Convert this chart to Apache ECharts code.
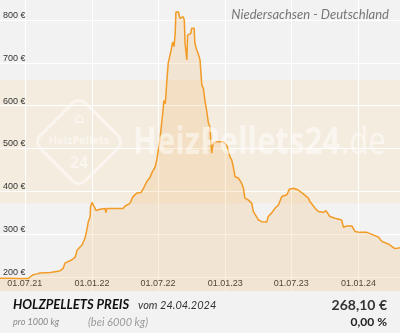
<!DOCTYPE html>
<html>
<head>
<meta charset="utf-8">
<script src="https://cdn.jsdelivr.net/npm/echarts@6/dist/echarts.min.js"></script>
<style>
  html, body { margin: 0; padding: 0; background: #f2f2f2; }
  #chart { width: 400px; height: 333px; }
</style>
</head>
<body>
<div id="chart"></div>
<script>
// Pellet price per 1000 kg (bei 6000 kg), Niedersachsen
const dates = [
  '2021-04-24','2021-05-21','2021-06-18','2021-07-10','2021-07-15','2021-07-23','2021-08-03','2021-08-12',
  '2021-09-08','2021-10-05','2021-10-14','2021-10-19','2021-10-22','2021-11-07','2021-11-16','2021-11-21',
  '2021-12-05','2021-12-13','2021-12-18','2021-12-22','2021-12-27','2021-12-28','2022-01-01','2022-01-07',
  '2022-01-12','2022-01-23','2022-02-06','2022-02-08','2022-02-11','2022-03-05','2022-03-27','2022-04-01',
  '2022-04-15','2022-04-23','2022-05-04','2022-05-15','2022-05-21','2022-06-01','2022-06-09','2022-06-14',
  '2022-06-23','2022-06-28','2022-07-06','2022-07-14','2022-07-17','2022-07-21','2022-07-26','2022-07-29',
  '2022-08-05','2022-08-10','2022-08-14','2022-08-17','2022-08-19','2022-08-26','2022-08-30','2022-09-04',
  '2022-09-08','2022-09-11','2022-09-13','2022-09-18','2022-09-20','2022-09-29','2022-10-01','2022-10-08',
  '2022-10-10','2022-10-15','2022-10-19','2022-10-24','2022-10-29','2022-11-02','2022-11-07','2022-11-11',
  '2022-11-16','2022-11-20','2022-11-24','2022-11-25','2022-11-29','2022-12-09','2022-12-27','2023-01-05',
  '2023-01-14','2023-01-19','2023-01-23','2023-01-28','2023-02-06','2023-02-15','2023-02-20','2023-02-24',
  '2023-03-05','2023-03-15','2023-03-19','2023-03-24','2023-04-02','2023-04-11','2023-04-25','2023-04-29',
  '2023-05-08','2023-05-18','2023-05-27','2023-06-05','2023-06-19','2023-06-26','2023-07-07','2023-07-20',
  '2023-08-03','2023-08-17','2023-08-21','2023-09-04','2023-09-13','2023-09-27','2023-10-04','2023-10-15',
  '2023-10-29','2023-11-16','2023-11-21','2023-11-30','2023-12-14','2023-12-23','2024-01-05','2024-01-24',
  '2024-02-02','2024-02-25','2024-03-05','2024-03-23','2024-04-10','2024-04-24'
];
const prices = [
  197,197,196,196,198,205,207,209,
  210,214,220,232,236,240,246,262,
  275,291,310,329,341,364,374,364,
  355,358,360,350,360,360,360,365,
  372,387,396,397,405,424,432,443,
  457,475,520,583,612,605,668,700,
  726,749,738,769,819,819,804,800,
  808,800,746,707,765,769,781,781,
  746,730,722,707,648,641,609,590,
  560,551,547,489,512,516,516,508,
  481,473,458,434,431,419,407,384,
  380,372,353,349,333,329,328,341,
  349,361,368,388,392,405,407,403,
  394,384,376,361,353,351,355,341,
  337,333,316,319,319,306,304,304,
  301,293,283,277,266,268.1
];

// Axis ticks
const dateTicks = ['2021-07-01','2022-01-01','2022-07-01','2023-01-01','2023-07-01','2024-01-01'];
const priceTicks = [200, 300, 400, 500, 600, 700, 800];
// Highlighted price band
const bandRange = [372, 660];

const xRange = ['2021-04-24', '2024-04-24'];
const yRange = [167, 847];

const ts = s => new Date(s + 'T00:00:00Z').getTime();
const pad = n => (n < 10 ? '0' : '') + n;
const fmtDate = v => {
  const d = new Date(v);
  return pad(d.getUTCDate()) + '.' + pad(d.getUTCMonth() + 1) + '.' + String(d.getUTCFullYear()).slice(2);
};

const chart = echarts.init(document.getElementById('chart'), null, { renderer: 'canvas' });

const labelFont = { fontFamily: 'Liberation Sans, Arial, sans-serif', fontSize: 9, color: '#333' };
const wm = 'rgba(255,255,255,0.5)';

chart.setOption({
  animation: false,
  backgroundColor: '#f2f2f2',
  grid: { left: 0, right: 0, top: 0, height: 291, containLabel: false },
  xAxis: {
    // timestamps on a linear axis so ticks can sit on the 1st of Jan / Jul
    type: 'value',
    min: ts(xRange[0]),
    max: ts(xRange[1]),
    z: 2,
    axisLine: { show: false },
    axisTick: { show: false, customValues: dateTicks.map(ts) },
    splitLine: { show: true, lineStyle: { color: '#ffffff', width: 1 } },
    axisLabel: Object.assign({
      customValues: dateTicks.map(ts),
      inside: true,
      margin: 3,
      formatter: v => fmtDate(v),
      hideOverlap: false
    }, labelFont)
  },
  yAxis: {
    type: 'value',
    min: yRange[0],
    max: yRange[1],
    z: 2,
    axisLine: { show: false },
    axisTick: { show: false, customValues: priceTicks },
    splitLine: { show: true, lineStyle: { color: '#ffffff', width: 1 } },
    axisLabel: Object.assign({
      customValues: priceTicks,
      inside: true,
      margin: 3,
      verticalAlign: 'bottom',
      formatter: v => v + ' €'
    }, labelFont)
  },
  series: [
    {
      type: 'line',
      z: 1,
      data: [],
      silent: true,
      markArea: {
        silent: true,
        z: 1,
        itemStyle: { color: '#f4ecdf' },
        data: [[{ yAxis: bandRange[0] }, { yAxis: bandRange[1] }]]
      }
    },
    {
      type: 'line',
      z: 3,
      showSymbol: false,
      data: dates.map((d, i) => [ts(d), prices[i]]),
      lineStyle: { color: '#f29b26', width: 1.5 },
      areaStyle: { color: 'rgba(236,160,60,0.24)', origin: 'start' }
    }
  ],
  graphic: [
    // watermark logo
    {
      type: 'rect', z: 10, silent: true, x: 79, y: 142, rotation: Math.PI / 4,
      shape: { x: -32, y: -32, width: 64, height: 64, r: 9 },
      style: { fill: 'transparent', stroke: wm, lineWidth: 3 }
    },
    {
      type: 'text', z: 10, silent: true, x: 79, y: 141,
      style: { text: 'HeizPellets', fill: wm, font: 'bold 11px "Open Sans", sans-serif', textAlign: 'center', textVerticalAlign: 'middle' }
    },
    {
      type: 'text', z: 10, silent: true, x: 79, y: 163,
      style: { text: '24', fill: wm, font: 'bold 16px "Open Sans", sans-serif', textAlign: 'center', textVerticalAlign: 'middle' }
    },
    {
      type: 'text', z: 10, silent: true, x: 79, y: 119,
      style: { text: '⌂', fill: wm, font: 'bold 15px "DejaVu Sans", sans-serif', textAlign: 'center', textVerticalAlign: 'middle' }
    },
    {
      type: 'text', z: 10, silent: true, x: 133, y: 143, scaleX: 0.82,
      style: { text: 'HeizPellets24', fill: wm, font: 'bold 38px "Open Sans", sans-serif', textAlign: 'left', textVerticalAlign: 'middle' }
    },
    {
      type: 'text', z: 10, silent: true, x: 341, y: 143, scaleX: 0.82,
      style: { text: '.de', fill: wm, font: '38px "Open Sans", sans-serif', textAlign: 'left', textVerticalAlign: 'middle' }
    },
    // region caption
    {
      type: 'text', x: 389, y: 15, z: 20,
      style: { text: 'Niedersachsen - Deutschland', fill: '#777', font: 'italic 13px Lato, sans-serif', textAlign: 'right', textVerticalAlign: 'middle' }
    },
    // footer
    {
      type: 'rect', z: 20, shape: { x: 0, y: 291, width: 400, height: 42 },
      style: { fill: '#f2f2f2' }
    },
    {
      type: 'text', x: 13, y: 305, z: 21,
      style: { text: 'HOLZPELLETS PREIS', fill: '#111', font: 'italic bold 13px Lato, sans-serif', textAlign: 'left', textVerticalAlign: 'middle' }
    },
    {
      type: 'text', x: 138, y: 305, z: 21,
      style: { text: 'vom 24.04.2024', fill: '#333', font: 'italic 11px Lato, sans-serif', textAlign: 'left', textVerticalAlign: 'middle' }
    },
    {
      type: 'text', x: 13, y: 322, z: 21,
      style: { text: 'pro 1000 kg', fill: '#888', font: 'italic 9px Lato, sans-serif', textAlign: 'left', textVerticalAlign: 'middle' }
    },
    {
      type: 'text', x: 88, y: 322, z: 21,
      style: { text: '(bei 6000 kg)', fill: '#999', font: 'italic 11px Lato, sans-serif', textAlign: 'left', textVerticalAlign: 'middle' }
    },
    {
      type: 'text', x: 387, y: 305, z: 21,
      style: { text: '268,10 €', fill: '#333', font: 'bold 14px Lato, sans-serif', textAlign: 'right', textVerticalAlign: 'middle' }
    },
    {
      type: 'text', x: 387, y: 322, z: 21,
      style: { text: '0,00 %', fill: '#222', font: 'bold 12px Lato, sans-serif', textAlign: 'right', textVerticalAlign: 'middle' }
    }
  ]
});
</script>
</body>
</html>
